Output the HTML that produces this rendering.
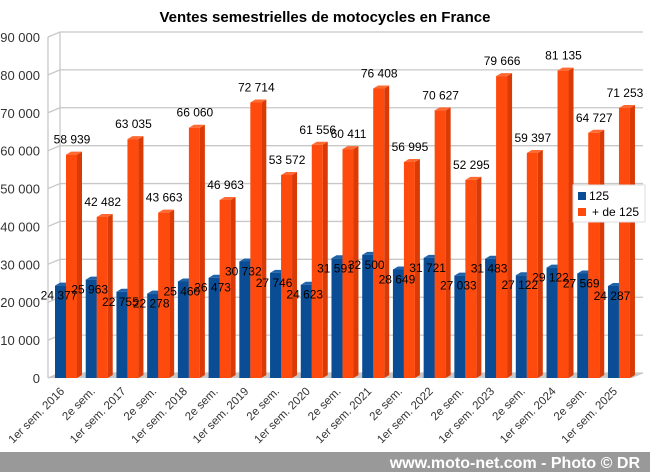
<!DOCTYPE html>
<html><head><meta charset="utf-8"><style>
body{margin:0;background:#fff;font-family:"Liberation Sans",sans-serif}
#wrap{position:relative;width:650px;height:472px;overflow:hidden}
</style></head><body>
<div id="wrap">
<svg id="chart" width="650" height="472" font-family="Liberation Sans, sans-serif"></svg>
</div>
<script>
const categories=["1er sem. 2016","2e sem.","1er sem. 2017","2e sem.","1er sem. 2018","2e sem.","1er sem. 2019","2e sem.","1er sem. 2020","2e sem.","1er sem. 2021","2e sem.","1er sem. 2022","2e sem.","1er sem. 2023","2e sem.","1er sem. 2024","2e sem.","1er sem. 2025"];
const series125=[24377,25963,22755,22278,25460,26473,30732,27746,24623,31591,32500,28649,31721,27033,31483,27122,29122,27569,24287];
const seriesPlus=[58939,42482,63035,43663,66060,46963,72714,53572,61556,60411,76408,56995,70627,52295,79666,59397,81135,64727,71253];
const yTicks=[0,10000,20000,30000,40000,50000,60000,70000,80000,90000];
const NS="http://www.w3.org/2000/svg";
const svg=document.getElementById('chart');
function el(t,a,txt){const e=document.createElementNS(NS,t);for(const k in a)e.setAttribute(k,a[k]);if(txt!==undefined)e.textContent=txt;svg.appendChild(e);return e;}
function fmt(v){return String(v).replace(/\B(?=(\d{3})+(?!\d))/g,' ');}
const y0=378,yPer=341/90000,dx=12,dy=-5;
const y=v=>y0-v*yPer;
const x=i=>55+i*30.72;
const bw=11,dep=5,dup=3;
let t=el('text',{x:325,y:22,'text-anchor':'middle','font-size':15,'font-weight':'bold',fill:'#000'},'Ventes semestrielles de motocycles en France');

let f=el('polygon',{points:`48,${y0} 632,${y0} ${632+dx},${y0+dy} ${48+dx},${y0+dy}`,fill:'#c8c8c8'});

yTicks.forEach(v=>{
 const g=el('polyline',{points:`48,${y(v)} ${48+dx},${y(v)+dy} 643,${y(v)+dy}`,fill:'none',stroke:'#c8c8c8','stroke-width':1.3});
 
 const l=el('text',{x:40,y:y(v)+5,'text-anchor':'end','font-size':13,fill:'#333'},fmt(v));
 
});
let a=el('line',{x1:48+dx,y1:y(90000)+dy,x2:48+dx,y2:y0+dy,stroke:'#c8c8c8','stroke-width':1.3});

a=el('line',{x1:48,y1:y(90000),x2:48,y2:y0,stroke:'#c8c8c8','stroke-width':1.3});

function bar(xl,v,face,side,top,name){
 const yt=y(v);
 const g=document.createElementNS(NS,'g');svg.appendChild(g);
 
 const mk=(pts,c)=>{const p=document.createElementNS(NS,'polygon');p.setAttribute('points',pts);p.setAttribute('fill',c);g.appendChild(p);};
 mk(`${xl+bw},${yt} ${xl+bw+dep},${yt-dup} ${xl+bw+dep},${y0-dup} ${xl+bw},${y0}`,side);
 mk(`${xl},${yt} ${xl+dep},${yt-dup} ${xl+bw+dep},${yt-dup} ${xl+bw},${yt}`,top);
 mk(`${xl},${yt} ${xl+bw},${yt} ${xl+bw},${y0} ${xl},${y0}`,face);
}
categories.forEach((c,i)=>{
 const xb=x(i);
 bar(xb,series125[i],'#0a4d94','#083c75','#1f63ab','bar-125');
 bar(xb+bw,seriesPlus[i],'#ff4a0d','#d93a06','#ff6a33','bar-plus-125');
});
categories.forEach((c,i)=>{
 const xb=x(i);
 let l=el('text',{x:xb+bw+6,y:y(seriesPlus[i])-11,'text-anchor':'middle','font-size':12,fill:'#000'},fmt(seriesPlus[i]));
 
 l=el('text',{x:xb+4,y:y(series125[i])+14,'text-anchor':'middle','font-size':12,fill:'#000'},fmt(series125[i]));
 
 const cx=xb+10,cy=392;
 const xl=el('text',{x:cx,y:cy,'text-anchor':'end','font-size':11.5,fill:'#333',transform:`rotate(-45 ${cx} ${cy})`},c);
 
});
let lg=el('rect',{x:573,y:185,width:72,height:37,fill:'#fff',stroke:'#ddd'});

let s=el('rect',{x:578,y:192,width:8,height:8,fill:'#0a4d94'});
s=el('text',{x:589,y:200,'font-size':12,fill:'#000'},'125');
s=el('rect',{x:578,y:208,width:8,height:8,fill:'#ff4a0d'});
s=el('text',{x:592,y:216,'font-size':12,fill:'#000'},'+ de 125');
let ft=el('rect',{x:0,y:452,width:650,height:20,fill:'#999'});
ft=el('text',{x:640,y:468,'text-anchor':'end','font-size':16,'font-weight':'bold',fill:'#fff'},'www.moto-net.com - Photo © DR');

</script>
</body></html>
